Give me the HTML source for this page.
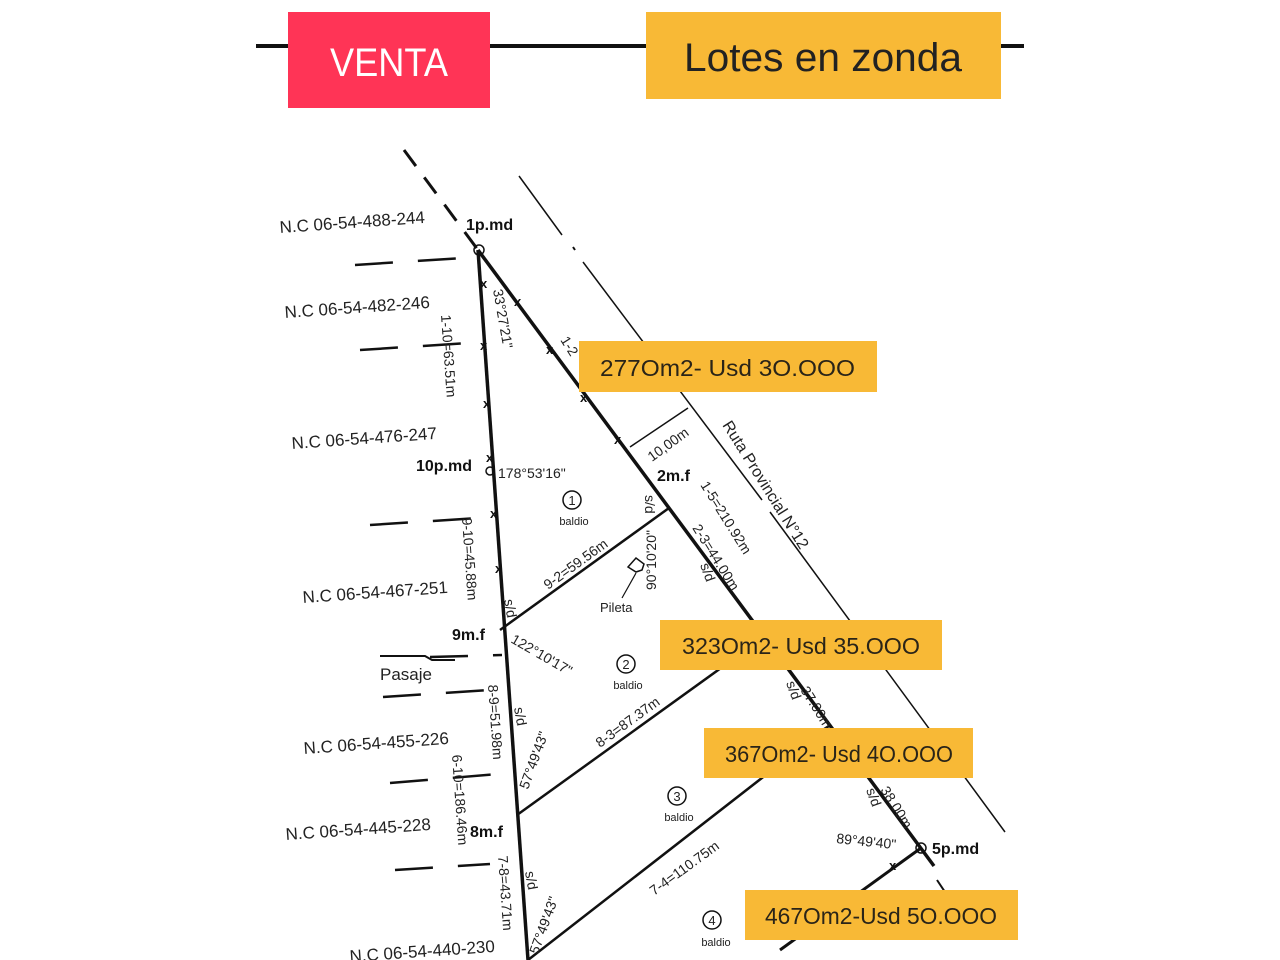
<!DOCTYPE html>
<html><head><meta charset="utf-8"><style>
html,body{margin:0;padding:0;background:#fff;width:1280px;height:960px;overflow:hidden}
svg text{font-family:"Liberation Sans",sans-serif}
</style></head><body>
<svg width="1280" height="960" viewBox="0 0 1280 960" xmlns="http://www.w3.org/2000/svg">
<!-- header -->
<line x1="256" y1="46" x2="1024" y2="46" stroke="#111" stroke-width="4"/>
<rect x="288" y="12" width="202" height="96" fill="#FF3456"/>
<text x="389" y="76" font-size="40" fill="#fff" text-anchor="middle" font-weight="300" textLength="118" lengthAdjust="spacingAndGlyphs">VENTA</text>
<rect x="646" y="12" width="355" height="87" fill="#F8B936"/>
<text x="823" y="71" font-size="40" fill="#222" text-anchor="middle" textLength="278" lengthAdjust="spacingAndGlyphs">Lotes en zonda</text>

<g stroke="#111" fill="none">
<!-- dashed extension -->
<line x1="404" y1="150" x2="478" y2="250" stroke-width="3" stroke-dasharray="20,14"/>
<!-- road lines -->
<line x1="519" y1="176" x2="562" y2="235" stroke-width="1.5"/>
<line x1="573" y1="247" x2="575" y2="250" stroke-width="2"/>
<line x1="583" y1="262" x2="762" y2="500" stroke-width="1.5"/>
<line x1="770" y1="512" x2="1005" y2="832" stroke-width="1.5"/>
<line x1="630" y1="447" x2="688" y2="408" stroke-width="1.5"/>
<!-- main diagonal -->
<line x1="478" y1="250" x2="934" y2="866" stroke-width="3.5"/>
<!-- left vertical -->
<line x1="478" y1="250" x2="528" y2="960" stroke-width="3.5"/>
<!-- cross lines -->
<line x1="500" y1="630" x2="669" y2="508" stroke-width="2.5"/>
<line x1="517" y1="815" x2="764" y2="637" stroke-width="2.5"/>
<line x1="528" y1="960" x2="830" y2="725" stroke-width="2.5"/>
<line x1="921" y1="848" x2="780" y2="950" stroke-width="3"/>
<line x1="937" y1="880" x2="947" y2="895" stroke-width="2"/>
<!-- left dashed neighbours -->
<g stroke-width="2.5" stroke-dasharray="38,25">
<line x1="355" y1="265" x2="478" y2="257"/>
<line x1="360" y1="350" x2="484" y2="342"/>
<line x1="370" y1="525" x2="494" y2="517"/>
<line x1="430" y1="657" x2="502" y2="655"/>
<line x1="383" y1="697" x2="505" y2="689"/>
<line x1="390" y1="783" x2="511" y2="773"/>
<line x1="395" y1="870" x2="490" y2="864"/>
</g>
<polyline points="380,656 425,656 432,660 455,660" stroke-width="2"/>
<circle cx="479" cy="250" r="5" stroke-width="1.5"/>
<circle cx="490" cy="471" r="4" stroke-width="1.5"/>
<circle cx="921" cy="848" r="5" stroke-width="1.5"/>
<!-- pileta -->
<path d="M628 567 l8 -9 l8 6 l-2 6 l-6 2 z" stroke-width="1.5"/>
<line x1="636" y1="573" x2="622" y2="598" stroke-width="1.2"/>
<circle cx="572" cy="500" r="9" stroke-width="1.5"/>
<circle cx="626" cy="664" r="9" stroke-width="1.5"/>
<circle cx="677" cy="796" r="9" stroke-width="1.5"/>
<circle cx="712" cy="920" r="9" stroke-width="1.5"/>
</g>
<g font-size="13" font-weight="bold" fill="#111">
<text x="480" y="288">x</text><text x="480" y="350">x</text><text x="483" y="408">x</text><text x="486" y="462">x</text><text x="490" y="518">x</text><text x="495" y="573">x</text>
<text x="514" y="306">x</text><text x="546" y="354">x</text><text x="580" y="402">x</text><text x="614" y="444">x</text><text x="889" y="870">x</text>
</g>
<g fill="#222" font-size="17">
<text x="280" y="233" transform="rotate(-4 280 233)">N.C 06-54-488-244</text>
<text x="285" y="318" transform="rotate(-4 285 318)">N.C 06-54-482-246</text>
<text x="292" y="449" transform="rotate(-4 292 449)">N.C 06-54-476-247</text>
<text x="303" y="603" transform="rotate(-4 303 603)">N.C 06-54-467-251</text>
<text x="304" y="754" transform="rotate(-4 304 754)">N.C 06-54-455-226</text>
<text x="286" y="840" transform="rotate(-4 286 840)">N.C 06-54-445-228</text>
<text x="350" y="962" transform="rotate(-4 350 962)">N.C 06-54-440-230</text>
<text x="380" y="680">Pasaje</text>
</g>
<g fill="#111" font-size="16" font-weight="bold">
<text x="466" y="230">1p.md</text>
<text x="416" y="471">10p.md</text>
<text x="657" y="481">2m.f</text>
<text x="452" y="640">9m.f</text>
<text x="470" y="837">8m.f</text>
<text x="932" y="854">5p.md</text>
</g>
<g fill="#222" font-size="14">
<text x="498" y="478">178°53'16"</text>
<text x="836" y="843" transform="rotate(6 836 843)">89°49'40"</text>
<text x="510" y="642" transform="rotate(30 510 642)">122°10'17"</text>
<text x="493" y="290" transform="rotate(80 493 290)">33°27'21"</text>
<text x="441" y="315" transform="rotate(86 441 315)">1-10=63.51m</text>
<text x="462" y="518" transform="rotate(86 462 518)">9-10=45.88m</text>
<text x="488" y="685" transform="rotate(86 488 685)">8-9=51.98m</text>
<text x="452" y="755" transform="rotate(86 452 755)">6-10=186.46m</text>
<text x="498" y="856" transform="rotate(86 498 856)">7-8=43.71m</text>
<text x="548" y="590" transform="rotate(-36 548 590)">9-2=59.56m</text>
<text x="600" y="748" transform="rotate(-36 600 748)">8-3=87.37m</text>
<text x="654" y="896" transform="rotate(-36 654 896)">7-4=110.75m</text>
<text x="528" y="790" transform="rotate(-70 528 790)">57°49'43"</text>
<text x="538" y="955" transform="rotate(-70 538 955)">57°49'43"</text>
<text x="656" y="590" transform="rotate(-90 656 590)">90°10'20"</text>
<text x="652" y="462" transform="rotate(-36 652 462)">10,00m</text>
<text x="700" y="485" transform="rotate(58 700 485)">1-5=210.92m</text>
<text x="692" y="528" transform="rotate(58 692 528)">2-3=44.00m</text>
<text x="800" y="690" transform="rotate(58 800 690)">37.00m</text>
<text x="880" y="790" transform="rotate(58 880 790)">38.00m</text>
<text x="560" y="340" transform="rotate(58 560 340)">1-2</text>
<text x="722" y="425" transform="rotate(58 722 425)" font-size="16">Ruta Provincial N°12</text>
<text x="645" y="495" transform="rotate(90 645 495)">s/d</text>
<text x="700" y="565" transform="rotate(70 700 565)">s/d</text>
<text x="786" y="683" transform="rotate(70 786 683)">s/d</text>
<text x="866" y="790" transform="rotate(70 866 790)">s/d</text>
<text x="504" y="600" transform="rotate(80 504 600)">s/d</text>
<text x="514" y="708" transform="rotate(80 514 708)">s/d</text>
<text x="525" y="872" transform="rotate(80 525 872)">s/d</text>
<text x="600" y="612" font-size="13">Pileta</text>
</g>
<g fill="#222" font-size="13" text-anchor="middle">
<text x="572" y="505">1</text><text x="574" y="525" font-size="11">baldio</text>
<text x="626" y="669">2</text><text x="628" y="689" font-size="11">baldio</text>
<text x="677" y="801">3</text><text x="679" y="821" font-size="11">baldio</text>
<text x="712" y="925">4</text><text x="716" y="946" font-size="11">baldio</text>
</g>
<!-- price boxes -->
<g fill="#F8B936">
<rect x="579" y="341" width="298" height="51"/>
<rect x="660" y="620" width="282" height="50"/>
<rect x="704" y="728" width="269" height="50"/>
<rect x="745" y="890" width="273" height="50"/>
</g>
<g fill="#2a2418" font-size="23">
<text x="600" y="376" textLength="255" lengthAdjust="spacingAndGlyphs">277Om2- Usd  3O.OOO</text>
<text x="682" y="654" textLength="238" lengthAdjust="spacingAndGlyphs">323Om2- Usd 35.OOO</text>
<text x="725" y="762" textLength="228" lengthAdjust="spacingAndGlyphs">367Om2- Usd 4O.OOO</text>
<text x="765" y="924" textLength="232" lengthAdjust="spacingAndGlyphs">467Om2-Usd 5O.OOO</text>
</g>
</svg>
</body></html>
